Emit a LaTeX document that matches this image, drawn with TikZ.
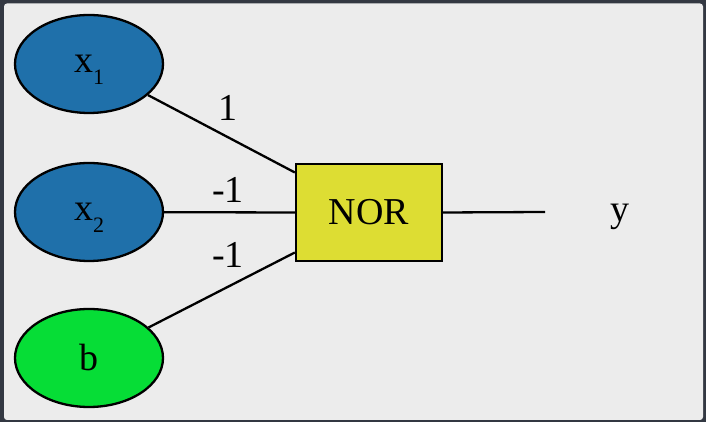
\documentclass[tikz,border=0pt]{standalone}
\usepackage{fontspec}
\setmainfont{Liberation Serif}
\usetikzlibrary{positioning,shapes.geometric}

\definecolor{inblue}{HTML}{1F70AA}
\definecolor{biasgreen}{HTML}{06DD36}
\definecolor{gateyellow}{HTML}{DDDD33}
\definecolor{panelgray}{HTML}{ECECEC}
\definecolor{framedark}{HTML}{333842}
\newcommand{\insub}[2]{#1\smash{\raisebox{-0.3em}{\fontsize{22}{22}\selectfont #2}}}

\begin{document}
\begin{tikzpicture}[x=1pt,y=1pt,line width=2.3pt,every node/.style={font=\fontsize{38}{42}\selectfont},input/.style={draw, ellipse, minimum width=148pt, minimum height=98pt, inner sep=0pt},gate/.style={draw, rectangle, fill=gateyellow, minimum width=146pt, minimum height=97pt, inner sep=0pt},weight/.style={inner sep=0pt}]
% frame and panel
\fill[framedark] (0,0) rectangle (706,422);
\fill[panelgray, rounded corners=3pt] (4,2) rectangle (703,418.5);
\useasboundingbox (0,0) rectangle (706,422);
% inputs
\node[input, fill=inblue] (x1) at (89,358) {\insub{x}{1}};
\node[input, fill=inblue] (x2) at (89,210) {\insub{x}{2}};
\node[input, fill=biasgreen] (b) at (89,64) {b};
% gate and output
\node[gate] (nor) at (369,209.5) {NOR};
\coordinate (out) at (545,210);
\node[anchor=base] (y) at (620,200) {y};
% connectors
\coordinate (nortop) at ([yshift=40pt]nor.west);
\coordinate (norbot) at ([yshift=-40pt]nor.west);
\draw (x1) -- (nortop);
\draw (x2) -- (nor.west);
\draw (b) -- (norbot);
\draw (nor.east) -- (out);
% weights
\node[weight] (w1) at (228,314.5) {1};
\node[weight] (w2) at (228,232) {-1};
\node[weight] (wb) at (228,167) {-1};
\end{tikzpicture}
\end{document}
